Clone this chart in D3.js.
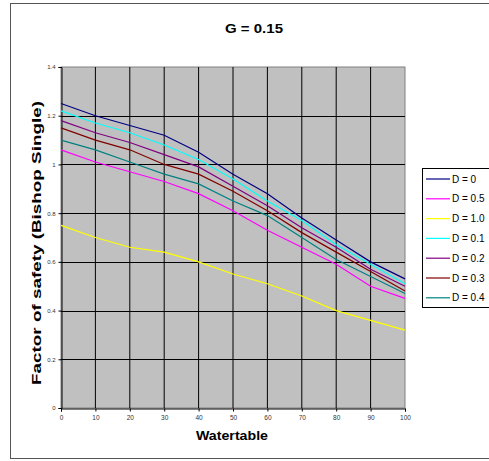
<!DOCTYPE html>
<html>
<head>
<meta charset="utf-8">
<script src="https://cdn.jsdelivr.net/npm/d3@7"></script>
<style>
  html, body { margin: 0; padding: 0; background: #fff; overflow: hidden; }
  svg { display: block; font-family: Arial, "Liberation Sans", sans-serif; }
</style>
</head>
<body>
<svg id="chart" width="489" height="461"></svg>
<script>
// Watertable levels (x axis)
const watertable = [0, 10, 20, 30, 40, 50, 60, 70, 80, 90, 100];

// Factor of safety for each D value
const fsD0   = [1.25, 1.20, 1.16, 1.12, 1.05, 0.96, 0.88, 0.78, 0.69, 0.60, 0.53];
const fsD05  = [1.06, 1.01, 0.97, 0.93, 0.88, 0.81, 0.73, 0.66, 0.59, 0.50, 0.45];
const fsD10  = [0.75, 0.70, 0.66, 0.64, 0.60, 0.55, 0.51, 0.46, 0.40, 0.36, 0.32];
const fsD01  = [1.22, 1.17, 1.13, 1.08, 1.02, 0.94, 0.85, 0.77, 0.67, 0.59, 0.51];
const fsD02  = [1.18, 1.13, 1.09, 1.04, 0.99, 0.91, 0.83, 0.74, 0.66, 0.57, 0.50];
const fsD03  = [1.15, 1.10, 1.06, 1.00, 0.96, 0.89, 0.81, 0.72, 0.64, 0.56, 0.48];
const fsD04  = [1.10, 1.06, 1.01, 0.96, 0.92, 0.85, 0.79, 0.70, 0.61, 0.54, 0.47];

const seriesNames = ["D = 0", "D = 0.5", "D = 1.0", "D = 0.1", "D = 0.2", "D = 0.3", "D = 0.4"];
const seriesValues = [fsD0, fsD05, fsD10, fsD01, fsD02, fsD03, fsD04];
const seriesColors = ["#000080", "#FF00FF", "#FFFF00", "#00FFFF", "#800080", "#800000", "#008080"];

const yTicks = [0, 0.2, 0.4, 0.6, 0.8, 1, 1.2, 1.4];
const xTicks = [0, 10, 20, 30, 40, 50, 60, 70, 80, 90, 100];

const svg = d3.select("#chart");

// Outer chart frame
svg.append("rect")
  .attr("x", 10.5).attr("y", 3.5)
  .attr("width", 500).attr("height", 455)
  .attr("fill", "#fff").attr("stroke", "#555").attr("stroke-width", 1);

const plot = { left: 61, top: 67, right: 405, bottom: 408 };

const x = d3.scaleLinear().domain([0, 100]).range([plot.left, plot.right]);
const y = d3.scaleLinear().domain([0, 1.4]).range([plot.bottom, plot.top]);

// Plot area background
svg.append("rect")
  .attr("x", plot.left).attr("y", plot.top)
  .attr("width", plot.right - plot.left).attr("height", plot.bottom - plot.top)
  .attr("fill", "#C0C0C0").attr("stroke", "#808080").attr("stroke-width", 1);

// Gridlines
svg.append("g").selectAll("line")
  .data(yTicks.filter(d => d > 0 && d < 1.4))
  .join("line")
  .attr("x1", plot.left).attr("x2", plot.right)
  .attr("y1", d => Math.round(y(d)) + 0.5).attr("y2", d => Math.round(y(d)) + 0.5)
  .attr("stroke", "#000").attr("stroke-width", 1);

svg.append("g").selectAll("line")
  .data(xTicks.filter(d => d > 0 && d < 100))
  .join("line")
  .attr("x1", d => x(d)).attr("x2", d => x(d))
  .attr("y1", plot.top).attr("y2", plot.bottom)
  .attr("stroke", "#000").attr("stroke-width", 1);

// Axes
const yAxis = d3.axisLeft(y).tickValues(yTicks).tickSize(3).tickPadding(3)
  .tickFormat(d => String(+d.toFixed(1)));
const gy = svg.append("g").attr("transform", `translate(${plot.left + 0.5},0)`).call(yAxis);
gy.select(".domain").attr("stroke", "#000");
gy.selectAll(".tick line").attr("stroke", "#000");
gy.selectAll(".tick text").attr("font-size", 6).attr("fill", "#333")
  .attr("font-family", "Arial, 'Liberation Sans', sans-serif");

const xAxis = d3.axisBottom(x).tickValues(xTicks).tickSize(3).tickPadding(4);
const gx = svg.append("g").attr("transform", `translate(0,${plot.bottom + 0.5})`).call(xAxis);
gx.select(".domain").attr("stroke", "#000");
gx.selectAll(".tick line").attr("stroke", "#000");
gx.selectAll(".tick text").attr("font-size", 6.5).attr("fill", "#333")
  .attr("font-family", "Arial, 'Liberation Sans', sans-serif");

// Series lines
const line = d3.line().x((d, i) => x(watertable[i])).y(d => y(d));
svg.append("g").selectAll("path")
  .data(seriesValues)
  .join("path")
  .attr("d", d => line(d))
  .attr("fill", "none")
  .attr("stroke", (d, i) => seriesColors[i])
  .attr("stroke-width", 1.2);

// Titles
svg.append("text")
  .attr("x", 254).attr("y", 33)
  .attr("text-anchor", "middle")
  .attr("font-size", 13.5).attr("font-weight", "bold")
  .attr("textLength", 58).attr("lengthAdjust", "spacingAndGlyphs")
  .text("G = 0.15");

svg.append("text")
  .attr("x", 232).attr("y", 440)
  .attr("text-anchor", "middle")
  .attr("font-size", 13).attr("font-weight", "bold")
  .attr("textLength", 72).attr("lengthAdjust", "spacingAndGlyphs")
  .text("Watertable");

svg.append("text")
  .attr("transform", `translate(41,243) rotate(-90)`)
  .attr("text-anchor", "middle")
  .attr("font-size", 13).attr("font-weight", "bold")
  .attr("textLength", 284).attr("lengthAdjust", "spacingAndGlyphs")
  .text("Factor of safety (Bishop Single)");

// Legend
const legend = svg.append("g");
legend.append("rect")
  .attr("x", 422.5).attr("y", 168.5)
  .attr("width", 80).attr("height", 139)
  .attr("fill", "#fff").attr("stroke", "#000").attr("stroke-width", 1);

const items = legend.selectAll("g")
  .data(seriesNames)
  .join("g")
  .attr("transform", (d, i) => `translate(0,${179 + i * 19.8})`);
items.append("line")
  .attr("x1", 426).attr("x2", 450)
  .attr("stroke", (d, i) => seriesColors[i]).attr("stroke-width", 1.2);
items.append("text")
  .attr("x", 452).attr("y", 3.5)
  .attr("font-size", 10)
  .text(d => d);
</script>
</body>
</html>
